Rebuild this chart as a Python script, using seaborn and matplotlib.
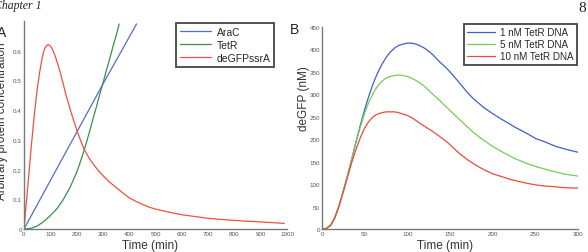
import numpy as np
import pandas as pd
import matplotlib
matplotlib.use("Agg")
import matplotlib.pyplot as plt
import seaborn as sns

# Panel A: arbitrary protein concentration vs time (min)
arac_t = [0, 100, 200, 300, 428]
arac_y = [0, 0.1625, 0.325, 0.4875, 0.69]

tetr_t = [0, 25, 50, 75, 100, 125, 150, 175, 200, 212, 225, 237, 250, 262, 275, 287,
          300, 312, 325, 337, 350, 362]
tetr_y = [0, 0.002, 0.01, 0.025, 0.045, 0.068, 0.10, 0.14, 0.19, 0.22, 0.255, 0.29,
          0.33, 0.37, 0.41, 0.45, 0.49, 0.53, 0.57, 0.61, 0.65, 0.69]

degfp_t = [0, 5, 10, 15, 20, 25, 30, 35, 40, 45, 50, 55, 60, 65, 70, 75, 80, 85, 92,
           98, 105, 112, 120, 130, 140, 150, 160, 170, 180, 190, 200, 210, 220, 227,
           240, 250, 262, 275, 287, 300, 325, 350, 375, 400, 425, 450, 475, 500, 550,
           600, 650, 700, 750, 800, 850, 900, 950, 990]
degfp_y = [0, 0.05, 0.10, 0.15, 0.20, 0.25, 0.30, 0.345, 0.39, 0.43, 0.47, 0.50, 0.53,
           0.555, 0.58, 0.597, 0.609, 0.617, 0.62, 0.618, 0.61, 0.597, 0.578, 0.55,
           0.52, 0.485, 0.45, 0.42, 0.39, 0.362, 0.335, 0.31, 0.287, 0.272, 0.25,
           0.235, 0.22, 0.205, 0.192, 0.18, 0.158, 0.14, 0.122, 0.105, 0.093, 0.083,
           0.074, 0.067, 0.057, 0.048, 0.042, 0.036, 0.032, 0.029, 0.026, 0.024,
           0.021, 0.019]

# Panel B: deGFP (nM) vs time (min) for three TetR DNA concentrations
b_t = [0, 5, 10, 15, 20, 25, 30, 35, 40, 45, 50, 55, 60, 65, 70, 75, 80, 85, 90, 95,
       100, 105, 110, 115, 120, 125, 130, 138, 145, 150, 160, 170, 177, 185, 190, 200,
       210, 220, 226, 235, 240, 251, 260, 274, 285, 300]
b_1nm = [0, 1, 8, 25, 52, 85, 120, 157, 195, 232, 266, 297, 324, 347, 366, 382, 394,
         403, 409, 412, 414, 414, 412, 408, 403, 396, 388, 372, 360, 350, 328, 305,
         291, 278, 270, 257, 245, 234, 227, 218, 213, 201, 195, 184, 178, 171]
b_5nm = [0, 1, 8, 25, 52, 85, 120, 157, 194, 228, 258, 283, 303, 318, 329, 336, 340,
         342, 343, 342, 340, 336, 331, 325, 318, 309, 300, 286, 273, 264, 246, 228,
         216, 204, 197, 184, 173, 163, 157, 150, 146, 139, 134, 127, 122, 118]
b_10nm = [0, 1, 8, 25, 51, 83, 116, 149, 178, 204, 225, 240, 250, 256, 259, 261, 261,
          261, 259, 256, 253, 248, 242, 235, 229, 223, 217, 206, 196, 188, 170, 155,
          146, 137, 132, 123, 117, 111, 108, 104, 102, 98, 96, 94, 92, 91]

labels_a = ["AraC", "TetR", "deGFPssrA"]
labels_b = ["1 nM TetR DNA", "5 nM TetR DNA", "10 nM TetR DNA"]
colors_a = ["#5070c8", "#3a8f4c", "#f0503e"]
colors_b = ["#3f5fc9", "#74cc5e", "#ee4a3a"]

df_a = pd.concat([
    pd.DataFrame({"t": arac_t, "y": arac_y, "s": labels_a[0]}),
    pd.DataFrame({"t": tetr_t, "y": tetr_y, "s": labels_a[1]}),
    pd.DataFrame({"t": degfp_t, "y": degfp_y, "s": labels_a[2]}),
])
df_b = pd.concat([
    pd.DataFrame({"t": b_t, "y": b_1nm, "s": labels_b[0]}),
    pd.DataFrame({"t": b_t, "y": b_5nm, "s": labels_b[1]}),
    pd.DataFrame({"t": b_t, "y": b_10nm, "s": labels_b[2]}),
])

sns.set_style("white")
plt.rcParams['font.family'] = ['Liberation Sans', 'DejaVu Sans']

W, H = 588, 253
fig = plt.figure(figsize=(W / 100, H / 100), dpi=100)
ax_a = fig.add_axes([24 / W, 23 / H, 263 / W, 208 / H])
ax_b = fig.add_axes([322 / W, 23 / H, 256 / W, 202 / H])

sns.lineplot(data=df_a, x="t", y="y", hue="s", hue_order=labels_a, palette=colors_a,
             linewidth=0.9, sort=True, ax=ax_a)
sns.lineplot(data=df_b, x="t", y="y", hue="s", hue_order=labels_b, palette=colors_b,
             linewidth=0.9, sort=True, ax=ax_b)

ax_a.set_xlim(0, 1000)
ax_a.set_ylim(0, 0.7)
ax_a.set_xticks(np.arange(0, 1001, 100))
ax_a.set_yticks([0, 0.1, 0.2, 0.3, 0.4, 0.5, 0.6])
ax_a.set_yticklabels(["0", "0.1", "0.2", "0.3", "0.4", "0.5", "0.6"])

ax_b.set_xlim(0, 300)
ax_b.set_ylim(0, 450)
ax_b.set_xticks(np.arange(0, 301, 50))
ax_b.set_yticks(np.arange(0, 451, 50))

for ax in (ax_a, ax_b):
    for side in ("top", "right"):
        ax.spines[side].set_visible(False)
    for side in ("left", "bottom"):
        ax.spines[side].set_color("#7a7a7a")
        ax.spines[side].set_linewidth(1.0)
    ax.tick_params(direction="in", length=2.5, width=0.6, colors="#7a7a7a",
                   labelsize=4.5, labelcolor="#555555", pad=1.5)
    ax.set_xlabel("Time (min)", fontsize=8.5, color="#333333", va="center")

ax_a.set_ylabel("Arbitrary protein concentration", fontsize=8.5, color="#333333")
ax_b.set_ylabel("deGFP (nM)", fontsize=8.5, color="#333333")
ax_a.xaxis.set_label_coords(0.479, -0.075)
ax_b.xaxis.set_label_coords(0.48, -0.077)
ax_a.yaxis.set_label_coords(-0.061, 0.525)
ax_b.yaxis.set_label_coords(-0.047, 0.65)

h, l = ax_a.get_legend_handles_labels()
leg = ax_a.legend(h, l, loc="upper right", bbox_to_anchor=(0.951, 0.99), fontsize=7.5,
                  handlelength=3.0, fancybox=False, framealpha=1, borderpad=0.35,
                  labelspacing=0.3, handletextpad=0.5, borderaxespad=0)
leg.get_frame().set_edgecolor("#444444")
leg.get_frame().set_linewidth(1.3)

h, l = ax_b.get_legend_handles_labels()
leg = ax_b.legend(h, l, loc="upper right", bbox_to_anchor=(0.996, 1.015), fontsize=7.1,
                  handlelength=2.8, fancybox=False, framealpha=1, borderpad=0.35,
                  labelspacing=0.2, handletextpad=0.5, borderaxespad=0)
leg.get_frame().set_edgecolor("#444444")
leg.get_frame().set_linewidth(1.3)

# page decorations from the thesis scan
fig.text(-6 / W, 1 - 6 / H, "Chapter 1", family=["Liberation Serif", "DejaVu Serif"],
         style="italic", fontsize=8.5, color="#222222", va="center", ha="left")
fig.text(582 / W, 1 - 8 / H, "8", family=["Liberation Serif", "DejaVu Serif"],
         fontsize=11, color="#222222", va="center", ha="center")
fig.text(-3 / W, 1 - 33 / H, "A", fontsize=10, color="#222222", va="center", ha="left")
fig.text(290 / W, 1 - 30 / H, "B", fontsize=10, color="#222222", va="center", ha="left")

fig.savefig("out.png", dpi=100)
